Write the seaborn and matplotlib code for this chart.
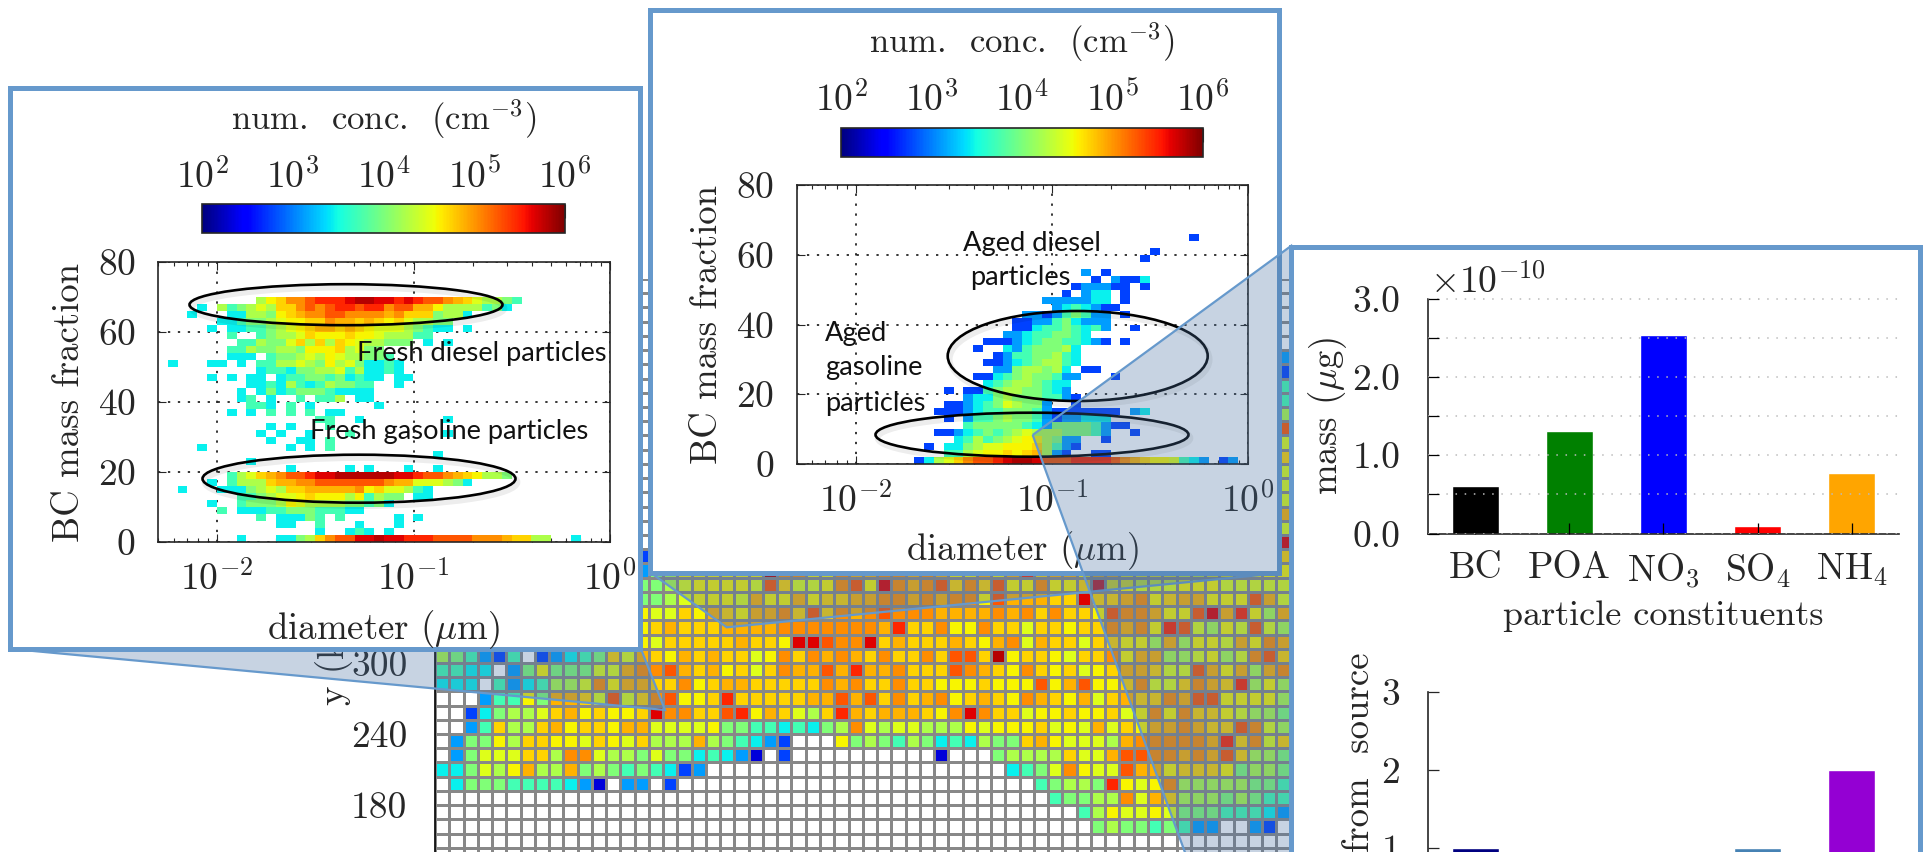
import numpy as np
import matplotlib
matplotlib.use('Agg')
import matplotlib.pyplot as plt
import matplotlib.patches as mpatches
import matplotlib.patheffects as pe
from matplotlib.colors import LogNorm
from matplotlib.cm import ScalarMappable
from matplotlib.ticker import NullFormatter
import seaborn as sns

W, H = 1931, 852

# colour levels, as position on the 10^2..10^6 scale
levels = dict(a=.08, b=.19, c=.28, d=.36, e=.43, f=.505, g=.56, h=.62,
              i=.65, j=.685, k=.72, l=.76, m=.82, n=.87, o=.915, p=.95)

# fresh particles: (row from top, first column, cells), '.' is empty
fresh_cells = [
    (5, 10, "gijllmnnnoppoononmmlkjhggfe"),
    (6, 4, "d.gefghgjjlmlmnnmnnlmmkkiggggefd"),
    (7, 3, "d...ddggfijkllmmllllkljjjfggd"),
    (8, 6, "ddeffghiijjlkkjkjijhggff"),
    (9, 5, "d.ddeefghijkkjkjihhhgfedd.d"),
    (10, 7, "e..efgghjiiijiihgggee"),
    (11, 8, "eegffhjgjgjihggfff.d.d"),
    (12, 7, "eegffggfiiijghff"),
    (13, 7, "ddd.effghgihggffe"),
    (14, 1, "d...dd.d.eegghgfighfdded"),
    (15, 10, "deedffgghegdded"),
    (16, 5, "d.d.dd.deeffefdedd.dd"),
    (17, 9, "ddedgedegffee..d"),
    (18, 8, "d.dfdefffedddd"),
    (19, 8, "de.d..e.eeg.dd"),
    (20, 9, "eed.e.d......d"),
    (21, 7, "d.d.e.e.e.dd"),
    (22, 16, "ee..d........d"),
    (23, 11, "d.d...e"),
    (24, 10, "d.d..d...e.........d"),
    (25, 11, "d..dd.e"),
    (26, 4, "d........d.d.e"),
    (27, 28, "d"),
    (28, 9, "d"),
    (29, 13, "d.....d.d...d..d"),
    (30, 7, "eghjklmmnooppppppoonmmlkjiggf"),
    (31, 5, "d.egggjkkllmmmmmmmlkkhhhgfd"),
    (32, 2, "d...dddfghgjjkkkkklijhhged"),
    (33, 8, "eefghhijiiigiegff.dd"),
    (34, 5, "d..efffgihggggffefd"),
    (35, 6, "e.dddeefffeeedd"),
    (36, 10, "e.dddfe.e.....d.d"),
    (37, 12, "dd..e...d...d"),
    (38, 16, "d..ded.d"),
    (39, 8, "d...ddfgjlmmoopoonnnmmmmlllkjjgg..d"),
]

# aged particles
aged_cells = [
    (7, 40, "b"),
    (9, 36, "b"),
    (10, 35, "b"),
    (12, 29, "c.b"),
    (13, 30, "b.cbbd"),
    (14, 28, "bcccbb.b"),
    (15, 27, "b.cdd.b"),
    (16, 25, "cccccdd.b"),
    (17, 26, "cdedcbb"),
    (18, 23, "ccbcefecc.b"),
    (19, 22, "bbccefdccc"),
    (20, 22, "bbdeefedec..b"),
    (21, 21, "ccdeeffed"),
    (22, 19, "bbbcdeffeedcb.b"),
    (23, 18, "b..dcefffgd"),
    (24, 20, "bceeffged"),
    (25, 19, "bbcdefgged"),
    (26, 20, "ccfggfgd.bb"),
    (27, 18, "bbdefgffecc...b"),
    (28, 19, "defggfedd"),
    (29, 15, "b.bbefggffedc"),
    (30, 17, "cddfgfffeecb"),
    (31, 15, "bbcdefhgffc..b"),
    (32, 14, "bbbcdeefffecbbbbbbb.cd"),
    (33, 15, "b.ceefgffecbccddd"),
    (34, 17, "efffffedcffffecbb"),
    (35, 14, "bbcdefefghgggfffec..b"),
    (36, 16, "degefghiigfcc..b"),
    (37, 13, "b.ddfghhiiijgecb"),
    (38, 15, "eeghiijijkgcb..bb"),
    (39, 12, "bdghjlmmnoppommmnnnnmlkjiihedc.bc"),
]

# domain map, rows top to bottom, only what is not hidden by the insets
map_upper_col14 = "...................b"
map_upper_col59 = ".....cbeegmhjhhhkhoj"
map_rows = [
    "..............cfgiiiiiiplliilk" + "kllklkiiki" + "knjkkikkii" + "iihhiikiii",
    "..............ffghiiiihmjhhilm" + "iolklmjljm" + "iiliijoiih" + "hhiiihhhhh",
    "..............ffghiiihkiikijjk" + "kllklkllim" + "kkkjjojjkl" + "ijkkiiimkh",
    "..............ihhjikjikkljmjlk" + "lmlllkkkkl" + "kljljjimll" + "kiimoknigk",
    "..............ijkjjjkkkkllllll" + "lknjjliilj" + "jhjjijjlkl" + "inmhgihmhg",
    "..............ihjjjjjkjjioomll" + "ojkjjjkjik" + "lhkjjhjjii" + "gkgiihkilk",
    "gfecbe.bcdefjhkjikjkjjhiljlklk" + "jljjljmmjp" + "ijjihjjlik" + "kgghighlmj",
    "eedd.cfifffhhkllmkjkijhjlkkmkn" + "kkljjjmlkj" + "iljijhijkk" + "jhhmkikgkl",
    "ddd.ecdegghlikkjjlijkkjjjjjlkl" + "jjljjiiiji" + "iimikmiijl" + "hhjlkjngig",
    "...ceeifkkjhmhjlmiijnjjjjjkkmk" + "mjljklijkj" + "ilkjikhjkj" + "jlkmmiiiig",
    "..bdfgghjkijiijolljjmnikjhgjnk" + "jkkkjilolj" + "jhiijiijhi" + "liljjihggf",
    "..cejggjkijjikkhhhhiffeededfgl" + "hghhgggihi" + "iijhihkhji" + "kklkjjmlhg",
    ".cffigjjiihjihjgggkgfedcb...if" + "gfegfdedgf" + "fjkihhhgkl" + "llllknjlhj",
    ".cfhhhjjgllhggfhffdedca.b....." + ".....a...f" + "ggggjhhkmm" + "llklkmjggf",
    "ddfhgikggkfgfefedbc..........." + ".........." + "defhlihhmk" + "kijjjifggf",
    ".dfffeeeedca.cc.b............." + ".........." + "..efggfnih" + "ilgggggffe",
    ".............................." + ".........." + "...effgglh" + "kjgggfgfee",
    ".............................." + ".........." + ".....egihh" + "ihfffeeedc",
    ".............................." + ".........." + "......fgff" + "efecc..cb.",
    "." * 60,
    "." * 60,
]
map_yticks = [600, 540, 480, 420, 360, 300, 240, 180]
map_top_km = 624
map_cell_km = 12

constituents = ['BC', 'POA', r'NO$_3$', r'SO$_4$', r'NH$_4$']
mass_values = [0.61, 1.31, 2.54, 0.09, 0.77]
mass_colors = ['black', 'green', 'blue', 'red', 'orange']
dist_values = [1, 0, 0, 1, 2]
dist_colors = ['navy', 'teal', 'seagreen', 'steelblue', 'darkviolet']

sns.set_style('ticks')
plt.rcParams['font.family'] = ['cmr10']
plt.rcParams['mathtext.fontset'] = 'cm'
plt.rcParams['axes.unicode_minus'] = False
plt.rcParams['axes.formatter.use_mathtext'] = True
plt.rcParams['axes.linewidth'] = 1.2
BIG = 26.5
TICK = 27
FRAME = '#6699cc'
SHADE = '#4870a0'

fig = plt.figure(figsize=(W / 100, H / 100), dpi=100, facecolor='white')


def px_axes(x0, y0, x1, y1, z):
    return fig.add_axes([x0 / W, 1 - y1 / H, (x1 - x0) / W, (y1 - y0) / H], zorder=z)


def overlay(z):
    ax = fig.add_axes([0, 0, 1, 1], zorder=z)
    ax.set_xlim(0, W)
    ax.set_ylim(H, 0)
    ax.axis('off')
    return ax


def callout(ax, pts):
    ax.add_patch(mpatches.Polygon(pts, closed=True, fc=SHADE, alpha=.3, ec='none'))
    ax.add_patch(mpatches.Polygon(pts, closed=True, fc='none', ec=FRAME, lw=1.6))


def box(ax, x0, y0, x1, y1):
    ax.add_patch(mpatches.Rectangle((x0, y0), x1 - x0, y1 - y0, fc='white', ec=FRAME, lw=3.6))


def conc_matrix(cells):
    m = np.full((40, 46), np.nan)
    for row, col, txt in cells:
        for i, c in enumerate(txt):
            if c != '.':
                m[row, col + i] = 10 ** (2 + 4 * levels[c])
    return m


def hist_panel(cells, pos, cbar_pos):
    ax = px_axes(*pos, 3)
    xedges = 10 ** np.linspace(np.log10(0.005), 0, 47)
    yedges = np.linspace(80, 0, 41)
    ax.pcolormesh(xedges, yedges, np.ma.masked_invalid(conc_matrix(cells)),
                  cmap='jet', norm=LogNorm(1e2, 1e6), linewidth=0, rasterized=True)
    ax.set_xscale('log')
    ax.set_xlim(0.005, 1)
    ax.set_ylim(0, 80)
    ax.set_axisbelow(True)
    ax.grid(True, which='major', color='black', linestyle=(0, (1.5, 5)), linewidth=1.1)
    ax.set_xticks([0.01, 0.1, 1], [r'$10^{-2}$', r'$10^{-1}$', r'$10^{0}$'])
    ax.xaxis.set_minor_formatter(NullFormatter())
    ax.set_yticks([0, 20, 40, 60, 80])
    ax.tick_params(which='major', direction='in', length=6, width=.8, top=True, right=True,
                   labelsize=TICK)
    ax.tick_params(axis='x', which='major', pad=13)
    ax.tick_params(axis='y', which='major', pad=16)
    ax.tick_params(which='minor', direction='in', length=3, width=.8, top=True)
    ax.set_xlabel(r'diameter ($\mu$m)', fontsize=BIG)
    ax.set_ylabel('BC mass fraction', fontsize=BIG)
    ax.xaxis.set_label_coords(.5, -.235)
    ax.yaxis.set_label_coords(-.16, .5)

    cax = px_axes(*cbar_pos, 3)
    cb = fig.colorbar(ScalarMappable(LogNorm(1e2, 1e6), 'jet'), cax=cax, orientation='horizontal')
    cb.set_ticks([1e2, 1e3, 1e4, 1e5, 1e6],
                 labels=[r'$10^{2}$', r'$10^{3}$', r'$10^{4}$', r'$10^{5}$', r'$10^{6}$'])
    cb.minorticks_off()
    cax.xaxis.set_ticks_position('top')
    cax.xaxis.set_label_position('top')
    cax.tick_params(direction='in', length=10, width=.8, labelsize=TICK, pad=7)
    cb.set_label(r'num.  conc.  (cm$^{-3}$)', fontsize=25, labelpad=20)
    return ax


# big map
map_ax = px_axes(435, 279.05, 435 + 60 * 14.26, 862, 1)
rows = [['.'] * 60 for _ in range(20)]
for i in range(20):
    rows[i][14] = map_upper_col14[i]
    rows[i][59] = map_upper_col59[i]
rows = [''.join(r) for r in rows] + map_rows
cells = np.array([[2 + 4 * levels[c] if c != '.' else 0 for c in r] for r in rows])
map_cmap = plt.get_cmap('jet').copy()
map_cmap.set_under('white')
sns.heatmap(cells, ax=map_ax, cmap=map_cmap, vmin=2, vmax=6, cbar=False,
            linewidths=.95, linecolor='#888888', xticklabels=False, yticklabels=False)
map_ax.set_yticks([(map_top_km - y) / map_cell_km for y in map_yticks])
map_ax.set_yticklabels([str(y) for y in map_yticks], rotation=0, fontsize=TICK)
map_ax.tick_params(axis='y', direction='in', length=11, width=1, pad=20, left=True)
map_ax.set_zorder(1)
map_ax.spines['left'].set_visible(True)
map_ax.spines['left'].set_color('black')
map_ax.spines['left'].set_zorder(5)

# callouts of the two insets, then their white boxes
under = overlay(2)
callout(under, [(12, 649), (665, 710), (641, 649)])
callout(under, [(651, 573), (726.7, 627.3), (1281, 573)])
under.text(335, 705, 'y (km)', rotation=90, ha='center', va='bottom', fontsize=BIG, zorder=0)
box(under, 10.5, 87.5, 639.6, 648.7)
box(under, 650, 9.5, 1279, 572.5)

hist_panel(fresh_cells, (158, 262, 610, 542), (202.5, 204.4, 564.7, 233.3))
hist_panel(aged_cells, (796.6, 185, 1248, 464), (841, 127.5, 1203, 156.9))

notes = overlay(4)
for cx, cy, w, h in [(346, 304.7, 313, 41), (359, 478.7, 313, 48),
                     (1077.7, 356, 260, 90), (1032, 434.7, 313, 44)]:
    e = mpatches.Ellipse((cx, cy), w, h, fc='none', ec='black', lw=1.9)
    e.set_path_effects([pe.SimpleLineShadow(offset=(1.5, -2.5), alpha=.07, shadow_color='black', linewidth=4),
                        pe.Normal()])
    notes.add_patch(e)
for x, y, s in [(357, 354, 'Fresh diesel particles'), (310, 432, 'Fresh gasoline particles'),
                (963, 243, 'Aged diesel'), (970, 278, 'particles'), (825, 334, 'Aged'),
                (825, 368, 'gasoline'), (825, 403, 'particles')]:
    notes.text(x, y, s, family='Lato', fontsize=19.6, ha='left', va='center', color='#111111')

# third callout sits over the middle inset, the right box over that
top = overlay(5)
callout(top, [(1032.7, 435), (1291, 246), (1291, 1143)])
rbox = overlay(6)
box(rbox, 1291, 247, 1920.5, 1000)

mass_ax = px_axes(1428, 298.5, 1899, 533.5, 7)
sns.barplot(x=constituents, y=mass_values, hue=constituents,
            palette=dict(zip(constituents, mass_colors)), width=.5, saturation=1,
            legend=False, ax=mass_ax)
mass_ax.set_xlim(-.5, 4.5)
mass_ax.set_ylim(0, 3)
mass_ax.set_yticks(np.arange(0, 3.01, .5), ['0.0', '', '1.0', '', '2.0', '', '3.0'])
mass_ax.set_axisbelow(False)
mass_ax.yaxis.grid(True, color='#bbbbbb', linestyle=(0, (1, 5)), linewidth=1.1)
mass_ax.tick_params(direction='in', length=8, width=.9, labelsize=TICK, color='black')
mass_ax.tick_params(axis='x', pad=13)
mass_ax.tick_params(axis='y', pad=20)
mass_ax.set_xlabel('particle constituents', fontsize=26)
mass_ax.set_ylabel(r'mass ($\mu$g)', fontsize=BIG)
mass_ax.xaxis.set_label_coords(.5, -.285)
mass_ax.yaxis.set_label_coords(-.168, .5)
sns.despine(ax=mass_ax)

dist_ax = px_axes(1428, 692, 1899, 925.5, 7)
sns.barplot(x=constituents, y=dist_values, hue=constituents,
            palette=dict(zip(constituents, dist_colors)), width=.5, saturation=1,
            legend=False, ax=dist_ax)
dist_ax.set_xlim(-.5, 4.5)
dist_ax.set_ylim(0, 3)
dist_ax.set_yticks([0, 1, 2, 3], ['0', '1', '2', '3'])
dist_ax.tick_params(direction='in', length=8, width=.9, labelsize=TICK)
dist_ax.tick_params(axis='y', pad=20)
dist_ax.set_xlabel('')
dist_ax.set_ylabel('')
sns.despine(ax=dist_ax)

labels = overlay(8)
labels.text(1430, 282, r'$\times 10^{-10}$', fontsize=TICK, ha='left', va='center')
labels.text(1359, 652, 'dist.  from  source', rotation=90, ha='center', va='top', fontsize=BIG)

fig.savefig('out.png', dpi=100)
